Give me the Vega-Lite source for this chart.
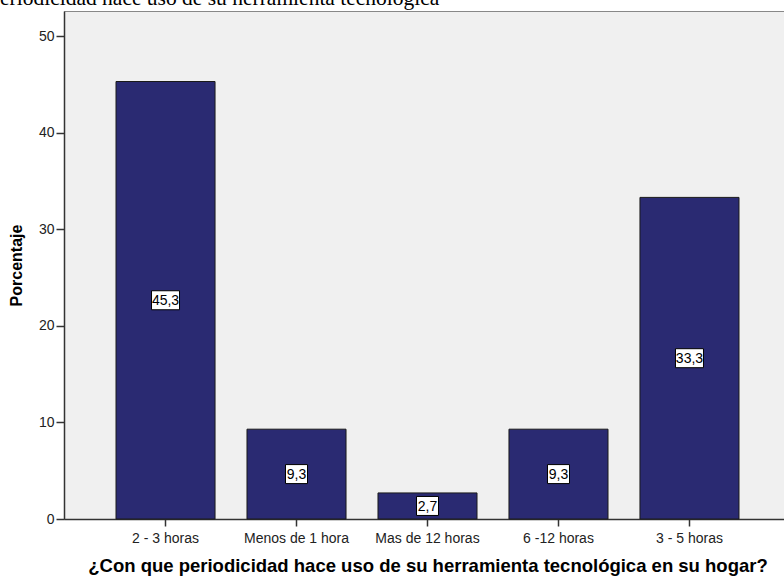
{
  "$schema": "https://vega.github.io/schema/vega-lite/v6.json",
  "autosize": "none",
  "padding": {"left": 64, "top": 11, "right": 0, "bottom": 59},
  "width": 727,
  "height": 508,
  "background": "white",
  "title": {
    "text": "eriodicidad hace uso de su herramienta tecnológica",
    "anchor": "start",
    "frame": "group",
    "dx": -64,
    "offset": 2,
    "font": "Liberation Serif",
    "fontSize": 21.5,
    "fontWeight": "normal",
    "color": "black"
  },
  "config": {
    "view": {"fill": "#F0F0F0", "stroke": "#888888", "strokeWidth": 1},
    "axis": {"grid": false, "labelFont": "Liberation Sans", "titleFont": "Liberation Sans", "domainColor": "#333333", "tickColor": "#333333", "labelColor": "#222222", "titleColor": "black"}
  },
  "data": {
    "values": [
      {"cat": "2 - 3 horas", "value": 45.3, "label": "45,3"},
      {"cat": "Menos de 1 hora", "value": 9.3, "label": "9,3"},
      {"cat": "Mas de 12 horas", "value": 2.7, "label": "2,7"},
      {"cat": "6 -12 horas", "value": 9.3, "label": "9,3"},
      {"cat": "3 - 5 horas", "value": 33.3, "label": "33,3"}
    ]
  },
  "encoding": {
    "x": {
      "field": "cat", "type": "nominal", "sort": null,
      "scale": {"paddingInner": 0.244, "paddingOuter": 0.397},
      "axis": {
        "title": "¿Con que periodicidad hace uso de su herramienta tecnológica en su hogar?",
        "titleFontSize": 18.5, "titleFontWeight": "bold", "titlePadding": 11,
        "labelAngle": 0, "labelFontSize": 14, "labelPadding": 5,
        "tickSize": 7, "tickWidth": 1.5, "domainWidth": 1.5
      }
    }
  },
  "layer": [
    {
      "mark": {"type": "bar", "color": "#2A2A72", "stroke": "#1a1a1a", "strokeWidth": 1},
      "encoding": {
        "y": {
          "field": "value", "type": "quantitative",
          "scale": {"domain": [0, 52.6], "nice": false},
          "axis": {
            "title": "Porcentaje", "titleFontSize": 16, "titleFontWeight": "bold", "titlePadding": 14,
            "values": [0, 10, 20, 30, 40, 50], "labelFontSize": 14, "labelPadding": 2,
            "tickSize": 8, "tickWidth": 1.5, "domainWidth": 1.5
          }
        }
      }
    },
    {
      "transform": [{"calculate": "datum.value / 2", "as": "mid"}],
      "mark": {"type": "point", "filled": true, "fill": "white", "stroke": "black", "strokeWidth": 1, "opacity": 1},
      "encoding": {
        "y": {"field": "mid", "type": "quantitative"},
        "size": {"value": 400},
        "shape": {
          "condition": {"test": "datum.value < 10", "value": "M-1.1,-0.95H1.1V0.95H-1.1Z"},
          "value": "M-1.4,-0.95H1.4V0.95H-1.4Z"
        }
      }
    },
    {
      "transform": [{"calculate": "datum.value / 2", "as": "mid"}],
      "mark": {"type": "text", "font": "Liberation Sans", "fontSize": 14, "color": "black", "baseline": "middle", "align": "center", "dy": 1},
      "encoding": {
        "y": {"field": "mid", "type": "quantitative"},
        "text": {"field": "label"}
      }
    }
  ]
}
